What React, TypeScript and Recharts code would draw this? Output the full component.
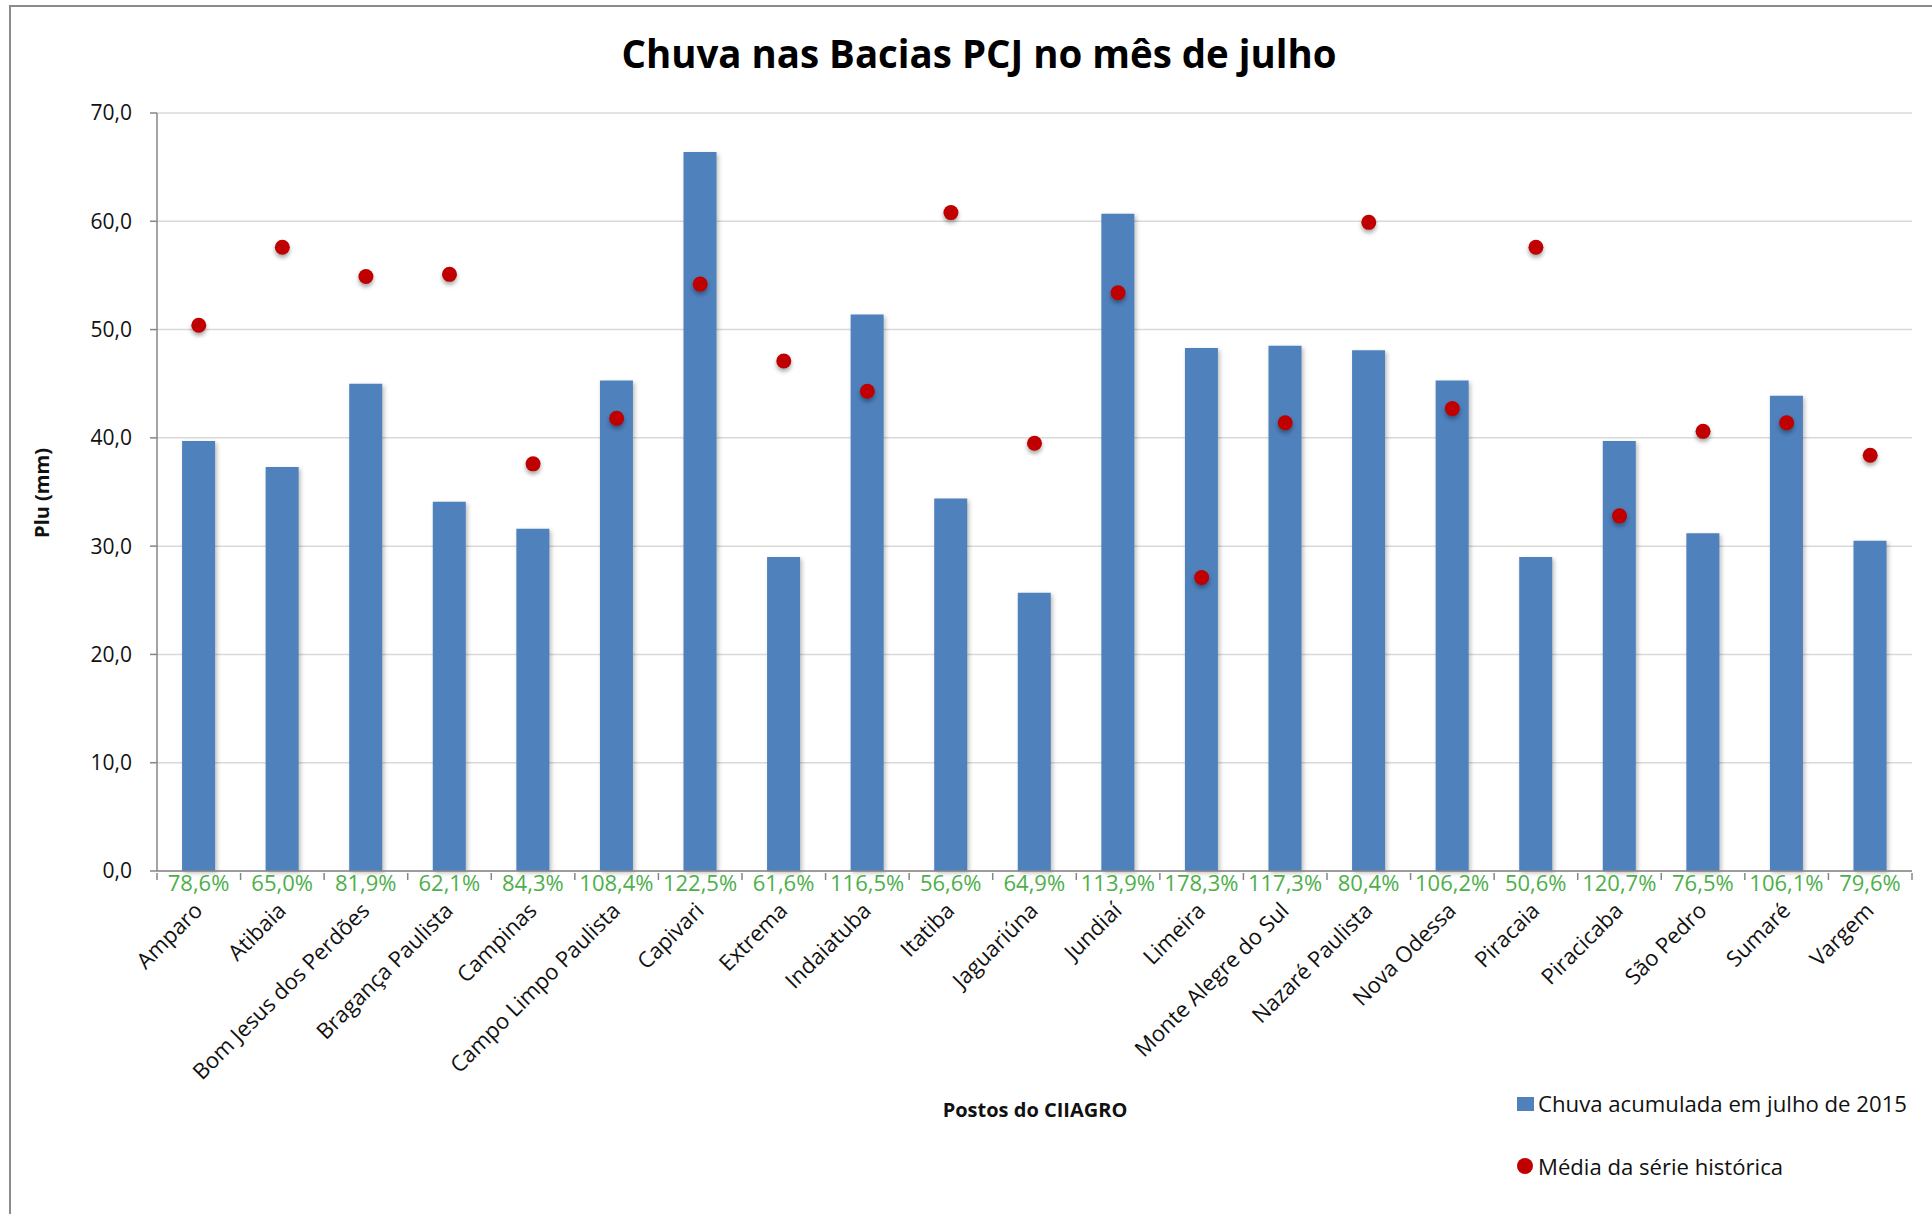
import React from 'react';
import { ComposedChart, Bar, Line, XAxis, YAxis, CartesianGrid, LabelList, Label } from 'recharts';

const categories = [
  'Amparo', 'Atibaia', 'Bom Jesus dos Perdões', 'Bragança Paulista', 'Campinas',
  'Campo Limpo Paulista', 'Capivari', 'Extrema', 'Indaiatuba', 'Itatiba', 'Jaguariúna',
  'Jundiaí', 'Limeira', 'Monte Alegre do Sul', 'Nazaré Paulista', 'Nova Odessa',
  'Piracaia', 'Piracicaba', 'São Pedro', 'Sumaré', 'Vargem',
];
const chuva2015 = [39.7, 37.3, 45.0, 34.1, 31.6, 45.3, 66.4, 29.0, 51.4, 34.4, 25.7, 60.7, 48.3, 48.5, 48.1, 45.3, 29.0, 39.7, 31.2, 43.9, 30.5];
const mediaHistorica = [50.4, 57.6, 54.9, 55.1, 37.6, 41.8, 54.2, 47.1, 44.3, 60.8, 39.5, 53.4, 27.1, 41.4, 59.9, 42.7, 57.6, 32.8, 40.6, 41.4, 38.4];
const percentLabels = ['78,6%', '65,0%', '81,9%', '62,1%', '84,3%', '108,4%', '122,5%', '61,6%', '116,5%', '56,6%', '64,9%', '113,9%', '178,3%', '117,3%', '80,4%', '106,2%', '50,6%', '120,7%', '76,5%', '106,1%', '79,6%'];
const yTicks = [0, 10, 20, 30, 40, 50, 60, 70];

const data = categories.map((c, i) => ({
  name: c,
  chuva: chuva2015[i],
  media: mediaHistorica[i],
  pct: percentLabels[i],
}));

const W = 1916;
const H = 1190;
const M_TOP = 105;
const M_RIGHT = 12;
const Y_W = 149;
const X_H = 327;
const PLOT_W = W - Y_W - M_RIGHT;
const STEP = PLOT_W / categories.length;
const FONT = '"Open Sans", "DejaVu Sans", sans-serif';
const AXIS = '#868686';

const XTick = (props: any) => {
  const { x, y, payload, index } = props;
  const axisY = y - 6;
  return (
    <g>
      <line x1={x - STEP / 2} x2={x - STEP / 2} y1={axisY} y2={axisY + 7} stroke={AXIS} strokeWidth={1.5} />
      {index === categories.length - 1 && (
        <line x1={x + STEP / 2} x2={x + STEP / 2} y1={axisY} y2={axisY + 7} stroke={AXIS} strokeWidth={1.5} />
      )}
      <text
        x={x + 5}
        y={axisY + 39}
        textAnchor="end"
        transform={`rotate(-45 ${x + 5} ${axisY + 39})`}
        fontSize={22}
        fontFamily={FONT}
        fill="#111"
      >
        {payload.value}
      </text>
    </g>
  );
};

const PctLabel = (props: any) => {
  const { x, y, width, height, value } = props;
  return (
    <text x={x + width / 2} y={y + height + 20} textAnchor="middle" fontSize={22} fontFamily={FONT} fill="#4DAF4A">
      {value}
    </text>
  );
};

const Dot = (props: any) => {
  const { cx, cy } = props;
  if (cx == null || cy == null) return null;
  return <circle cx={cx} cy={cy} r={7.5} fill="#C00000" style={{ filter: 'drop-shadow(0px 3px 2px rgba(0,0,0,0.35))' }} />;
};

export default function App() {
  return (
    <div style={{ position: 'relative', width: W, height: H, fontFamily: FONT }}>
      <div style={{ position: 'fixed', left: 9, top: 5, width: 1923, height: 2, background: '#8c8c8c', zIndex: 10 }} />
      <div style={{ position: 'fixed', left: 9, top: 5, width: 2, height: 1209, background: '#8c8c8c', zIndex: 10 }} />
      <ComposedChart width={W} height={H} data={data} margin={{ top: M_TOP, right: M_RIGHT, bottom: 0, left: 0 }} barCategoryGap="30%">
        <CartesianGrid vertical={false} stroke="#D9D9D9" strokeWidth={1.5} />
        <XAxis dataKey="name" interval={0} height={X_H} tickLine={false} axisLine={{ stroke: AXIS, strokeWidth: 1.5 }} tick={<XTick />}>
          <Label content={() => (
            <text x={1035 - 8} y={1117 - 8} textAnchor="middle" fontSize={20} fontWeight="bold" fontFamily={FONT} fill="#111">Postos do CIIAGRO</text>
          )} />
        </XAxis>
        <YAxis
          width={Y_W}
          domain={[0, 70]}
          ticks={yTicks}
          interval={0}
          tickSize={7}
          tickMargin={18}
          tickFormatter={(v: number) => v.toFixed(1).replace('.', ',')}
          tick={{ fontSize: 21, fontFamily: FONT, fill: '#111' }}
          axisLine={{ stroke: AXIS, strokeWidth: 1.5 }}
          tickLine={{ stroke: AXIS, strokeWidth: 1.5 }}
        >
          <Label content={() => (
            <text x={41 - 8} y={493 - 8} textAnchor="middle" dominantBaseline="central" transform={`rotate(-90 ${41 - 8} ${493 - 8})`} fontSize={20} fontWeight="bold" fontFamily={FONT} fill="#111">Plu (mm)</text>
          )} />
        </YAxis>
        <Bar dataKey="chuva" fill="#4F81BD" isAnimationActive={false} style={{ filter: 'drop-shadow(2px 2px 2px rgba(0,0,0,0.25))' }}>
          <LabelList dataKey="pct" content={<PctLabel />} />
        </Bar>
        <Line dataKey="media" stroke="none" dot={<Dot />} activeDot={false} isAnimationActive={false} />
      </ComposedChart>
      <svg style={{ position: 'absolute', left: -8, top: -8, pointerEvents: 'none', zIndex: 5 }} width={1932} height={1206}>
        <text x={979} y={68} textAnchor="middle" fontSize={39} fontWeight="bold" fontFamily={FONT} fill="#000" textLength={715} lengthAdjust="spacingAndGlyphs">
          Chuva nas Bacias PCJ no mês de julho
        </text>
        <rect x={1517} y={1097} width={17} height={14} fill="#4F81BD" />
        <text x={1538} y={1112} fontSize={22} fontFamily={FONT} fill="#111" textLength={369} lengthAdjust="spacingAndGlyphs">Chuva acumulada em julho de 2015</text>
        <circle cx={1525} cy={1166} r={8} fill="#C00000" />
        <text x={1538} y={1175} fontSize={22} fontFamily={FONT} fill="#111" textLength={245} lengthAdjust="spacingAndGlyphs">Média da série histórica</text>
      </svg>
    </div>
  );
}
